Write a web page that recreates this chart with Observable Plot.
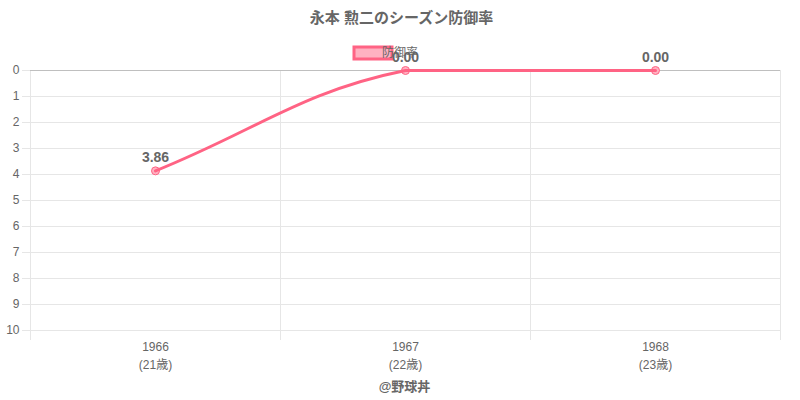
<!DOCTYPE html>
<html>
<head>
<meta charset="utf-8">
<script src="https://cdn.jsdelivr.net/npm/d3@7"></script>
<script src="https://cdn.jsdelivr.net/npm/@observablehq/plot@0.6"></script>
<style>
  html, body { margin: 0; padding: 0; background: #fff; }
  #chart svg { display: block; font-family: "Helvetica Neue", Helvetica, Arial, "Liberation Sans", "Noto Sans CJK JP", sans-serif; }
</style>
</head>
<body>
<div id="chart"></div>
<script>
const titleText = "永本 勲二のシーズン防御率";
const seriesName = "防御率";
const captionText = "@野球丼";
const years = [1966, 1967, 1968];
const ages = ["21歳", "22歳", "23歳"];
const era = [3.86, 0.00, 0.00];
const yTicks = [0, 1, 2, 3, 4, 5, 6, 7, 8, 9, 10];

const data = years.map((y, i) => ({ year: y, age: ages[i], era: era[i] }));
const bounds = [...years.map(y => y - 0.5), years[years.length - 1] + 0.5];

const W = 800, H = 400, MT = 70, MB = 70, ML = 30, MR = 20;
const pink = "rgb(255,99,132)";
const grid = "#e6e6e6";
const textCol = "#666";

// Chart.js-style spline (tension 0.4), control points clamped to the chart area
function chartjsCurve(context) {
  let pts = [];
  const t = 0.4;
  const clamp = (v, lo, hi) => Math.max(lo, Math.min(hi, v));
  return {
    areaStart() {}, areaEnd() {},
    lineStart() { pts = []; },
    point(x, y) { pts.push([+x, +y]); },
    lineEnd() {
      const n = pts.length;
      if (!n) return;
      const cps = pts.map((p, i) => {
        const a = pts[Math.max(0, i - 1)], c = pts[Math.min(n - 1, i + 1)];
        const d01 = Math.hypot(p[0] - a[0], p[1] - a[1]);
        const d12 = Math.hypot(c[0] - p[0], c[1] - p[1]);
        let s01 = d01 / (d01 + d12), s12 = d12 / (d01 + d12);
        if (isNaN(s01)) s01 = 0; if (isNaN(s12)) s12 = 0;
        const fa = t * s01, fb = t * s12;
        const prev = [p[0] - fa * (c[0] - a[0]), p[1] - fa * (c[1] - a[1])];
        const next = [p[0] + fb * (c[0] - a[0]), p[1] + fb * (c[1] - a[1])];
        const cl = q => [clamp(q[0], ML, W - MR), clamp(q[1], MT, H - MB)];
        return { prev: cl(prev), next: cl(next) };
      });
      context.moveTo(pts[0][0], pts[0][1]);
      for (let i = 1; i < n; i++) {
        const c1 = cps[i - 1].next, c2 = cps[i].prev;
        context.bezierCurveTo(c1[0], c1[1], c2[0], c2[1], pts[i][0], pts[i][1]);
      }
    }
  };
}

const chart = Plot.plot({
  width: W,
  height: H,
  marginTop: MT,
  marginBottom: MB,
  marginLeft: ML,
  marginRight: MR,
  x: { type: "linear", domain: [bounds[0], bounds[bounds.length - 1]], label: null },
  y: { domain: [0, 10], reverse: true, label: null },
  marks: [
    Plot.gridY(yTicks, { stroke: grid, strokeOpacity: 1 }),
    Plot.gridX(bounds, { stroke: grid, strokeOpacity: 1 }),
    Plot.axisX(bounds, { tickSize: 10, stroke: grid, strokeOpacity: 1, tickFormat: () => "", label: null }),
    Plot.axisY(yTicks, { tickSize: 8, tickPadding: 3, stroke: grid, strokeOpacity: 1, fill: textCol, fontSize: 12, label: null }),
    Plot.ruleY([0], { stroke: "#bfbfbf", x1: bounds[0], x2: bounds[bounds.length - 1] }),
    Plot.axisX(years, {
      tickSize: 0, tickPadding: 8, fill: textCol, fontSize: 12, lineHeight: 1.5, label: null,
      tickFormat: d => `${d}\n(${ages[years.indexOf(d)]})`
    }),
    Plot.dot(data, { x: "year", y: "era", r: 4, fill: "#ffb1c1", stroke: pink, strokeWidth: 1 }),
    Plot.line(data, { x: "year", y: "era", stroke: pink, strokeWidth: 3, curve: chartjsCurve }),
    Plot.text(data, { x: "year", y: "era", text: d => d.era.toFixed(2), dy: -13, fontSize: 14, fontWeight: "bold", fill: textCol }),
    Plot.text([titleText], { frameAnchor: "top", dx: -4, dy: -52, fontSize: 15, fontWeight: "bold", fill: textCol, lineAnchor: "middle" }),
    Plot.text([captionText], { frameAnchor: "bottom", dx: -1, dy: 56, fontSize: 13, fontWeight: "bold", fill: textCol, lineAnchor: "middle" })
  ]
});

// legend (drawn beneath the data layers, as in the reference)
const ns = "http://www.w3.org/2000/svg";
const lg = document.createElementNS(ns, "g");
const lr = d3.select(lg);
lr.append("rect").attr("x", 354).attr("y", 47).attr("width", 38).attr("height", 12)
  .attr("fill", "#ffb1c1").attr("stroke", pink).attr("stroke-width", 3);
lr.append("text").attr("x", 400).attr("y", 53).attr("dy", "0.35em")
  .attr("font-size", 12).attr("fill", textCol).text(seriesName);
const firstDot = chart.querySelector('[aria-label="dot"]');
chart.insertBefore(lg, firstDot);

document.getElementById("chart").appendChild(chart);
</script>
</body>
</html>
